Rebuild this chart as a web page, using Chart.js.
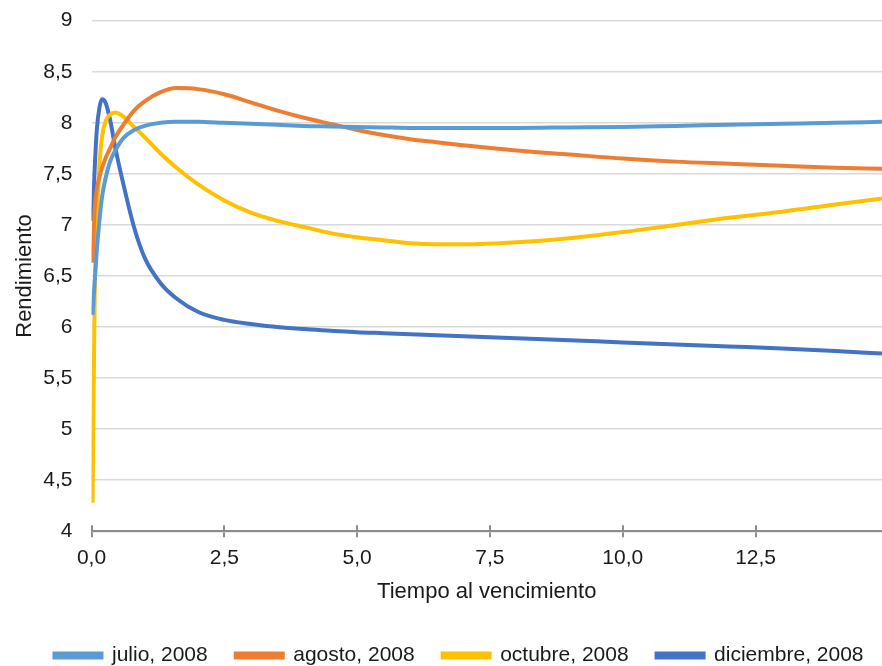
<!DOCTYPE html>
<html>
<head>
<meta charset="utf-8">
<script src="https://cdn.jsdelivr.net/npm/chart.js@4/dist/chart.umd.min.js"></script>
<style>
  html, body { margin: 0; padding: 0; background: #fff; }
  #wrap { width: 882px; height: 666px; }
</style>
</head>
<body>
<div id="wrap"><canvas id="curveChart" width="882" height="666"></canvas></div>
<script>
// Tiempo al vencimiento (años)
const maturities = [0.02, 0.06, 0.1, 0.15, 0.2, 0.27, 0.35, 0.45, 0.6, 0.8, 1.0, 1.3, 1.6, 2.0, 2.5, 3.0, 3.5, 4.0, 4.5, 5.0, 5.5, 6.0, 6.5, 7.0, 8.0, 9.0, 10.0, 11.0, 12.0, 13.0, 14.0, 14.88];

const julio = [6.12, 6.45, 6.75, 7.05, 7.28, 7.47, 7.62, 7.73, 7.85, 7.93, 7.97, 8.0, 8.01, 8.01, 8.0, 7.99, 7.98, 7.97, 7.965, 7.96, 7.955, 7.95, 7.95, 7.95, 7.95, 7.955, 7.96, 7.97, 7.98, 7.99, 8.0, 8.01];
const agosto = [6.63, 7.15, 7.35, 7.47, 7.56, 7.66, 7.75, 7.86, 7.98, 8.12, 8.21, 8.30, 8.34, 8.33, 8.28, 8.20, 8.12, 8.05, 7.99, 7.93, 7.88, 7.84, 7.81, 7.78, 7.73, 7.69, 7.65, 7.62, 7.60, 7.58, 7.56, 7.55];
const octubre = [4.28, 6.3, 7.0, 7.6, 7.87, 8.02, 8.08, 8.1, 8.06, 7.96, 7.86, 7.70, 7.56, 7.40, 7.24, 7.12, 7.04, 6.98, 6.92, 6.88, 6.85, 6.82, 6.81, 6.81, 6.83, 6.87, 6.93, 7.0, 7.07, 7.13, 7.20, 7.26];
const diciembre = [7.04, 7.55, 7.93, 8.15, 8.23, 8.19, 8.03, 7.75, 7.40, 6.98, 6.68, 6.43, 6.28, 6.15, 6.07, 6.03, 6.0, 5.98, 5.965, 5.95, 5.94, 5.93, 5.92, 5.91, 5.89, 5.87, 5.85, 5.83, 5.81, 5.79, 5.765, 5.74];

const seriesNames = ['julio, 2008', 'agosto, 2008', 'octubre, 2008', 'diciembre, 2008'];
const seriesColors = ['#5B9BD5', '#ED7D31', '#FFC000', '#4472C4'];

const xTicks = [0, 2.5, 5, 7.5, 10, 12.5];
const xTickLabels = ['0,0', '2,5', '5,0', '7,5', '10,0', '12,5'];
const yTicks = [4, 4.5, 5, 5.5, 6, 6.5, 7, 7.5, 8, 8.5, 9];
const yTickLabels = ['4', '4,5', '5', '5,5', '6', '6,5', '7', '7,5', '8', '8,5', '9'];

const toPoints = ys => maturities.map((x, i) => ({ x: x, y: ys[i] }));

const FONT = "'Liberation Sans', Arial, sans-serif";
const AXIS_GREY = '#8c8c8c';

// Excel-style tick marks that cross the axis line
const crossTicks = {
    id: 'crossTicks',
    afterDraw(chart) {
        const xs = chart.scales.x;
        const ctx = chart.ctx;
        ctx.save();
        ctx.strokeStyle = AXIS_GREY;
        ctx.lineWidth = 2;
        xs.ticks.forEach(t => {
            const px = Math.round(xs.getPixelForValue(t.value));
            ctx.beginPath();
            ctx.moveTo(px, xs.top - 6);
            ctx.lineTo(px, xs.top);
            ctx.stroke();
        });
        ctx.restore();
    }
};

// legend in the reference sits a bit right of centre
const shiftLegend = {
    id: 'shiftLegend',
    afterLayout(chart) {
        if (chart.legend) {
            chart.legend.left += 18;
            chart.legend.right += 18;
        }
    }
};

new Chart(document.getElementById('curveChart'), {
    type: 'line',
    data: {
        datasets: [julio, agosto, octubre, diciembre].map((ys, i) => ({
            label: seriesNames[i],
            data: toPoints(ys),
            borderColor: seriesColors[i],
            backgroundColor: seriesColors[i],
            borderWidth: 4,
            pointRadius: 0,
            cubicInterpolationMode: 'monotone',
            fill: false
        }))
    },
    plugins: [crossTicks, shiftLegend],
    options: {
        responsive: false,
        animation: false,
        devicePixelRatio: 1,
        layout: { padding: { top: 20.7, right: 0, left: 0, bottom: -10 } },
        plugins: {
            tooltip: { enabled: false },
            legend: {
                position: 'bottom',
                labels: {
                    boxWidth: 47,
                    boxHeight: 4,
                    padding: 28,
                    color: '#1a1a1a',
                    font: { family: FONT, size: 21 }
                }
            }
        },
        scales: {
            x: {
                type: 'linear',
                min: 0,
                max: 14.88,
                afterBuildTicks: scale => { scale.ticks = xTicks.map(v => ({ value: v })); },
                ticks: {
                    padding: 8.3,
                    color: '#1a1a1a',
                    font: { family: FONT, size: 21 },
                    maxRotation: 0,
                    callback: (v, i) => xTickLabels[i]
                },
                grid: { drawOnChartArea: false, drawTicks: true, tickLength: 6, color: AXIS_GREY, lineWidth: 2 },
                border: { display: true, color: AXIS_GREY, width: 2 },
                title: {
                    display: true,
                    text: 'Tiempo al vencimiento',
                    color: '#1a1a1a',
                    font: { family: FONT, size: 22 },
                    padding: { top: 0, bottom: 11.5 }
                }
            },
            y: {
                type: 'linear',
                min: 4,
                max: 9,
                afterBuildTicks: scale => { scale.ticks = yTicks.map(v => ({ value: v })); },
                afterFit: scale => {
                    scale.width = 91.5;
                    scale.paddingTop = 0;
                    scale.paddingBottom = 0;
                },
                ticks: {
                    padding: 19,
                    color: '#1a1a1a',
                    font: { family: FONT, size: 21 },
                    callback: (v, i) => yTickLabels[i]
                },
                grid: { color: '#d9d9d9', lineWidth: 1.5, drawTicks: false },
                border: { display: false },
                title: {
                    display: true,
                    text: 'Rendimiento',
                    color: '#1a1a1a',
                    font: { family: FONT, size: 22 },
                    padding: { top: 12, bottom: 4 }
                }
            }
        }
    }
});
</script>
</body>
</html>
